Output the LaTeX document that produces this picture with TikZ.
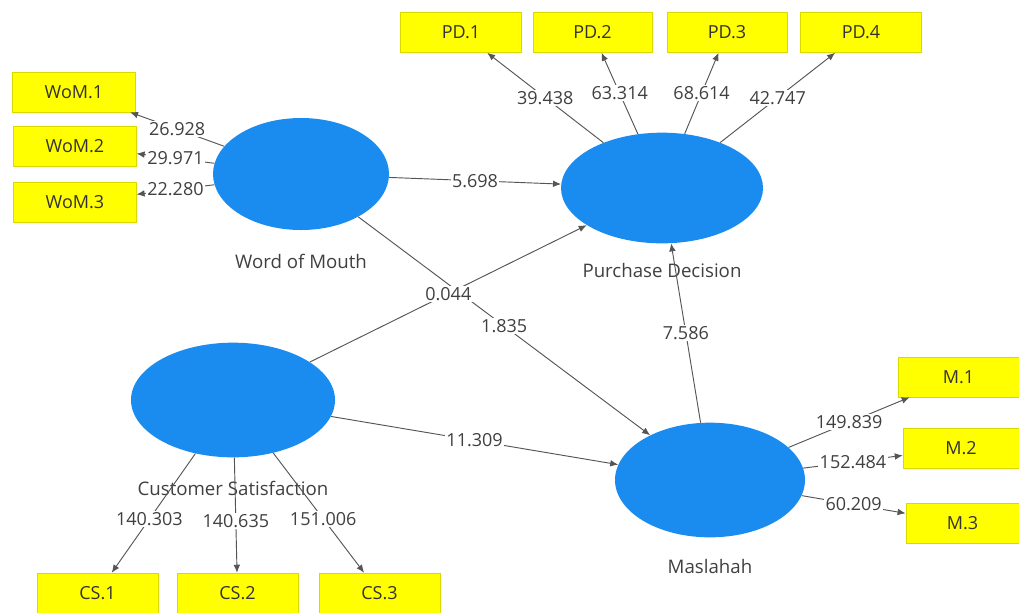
\documentclass[tikz,border=0pt]{standalone}
\usepackage{fontspec}
\setmainfont{Open Sans}
\usetikzlibrary{arrows.meta,shapes.geometric}
\definecolor{lvblue}{RGB}{26,140,240}
\definecolor{indyellow}{RGB}{255,255,0}
\definecolor{edgegray}{RGB}{85,85,85}
\definecolor{txtgray}{RGB}{64,64,64}
\tikzset{
  lv/.style={ellipse,fill=lvblue,draw=none,inner sep=0pt},
  ind/.style={rectangle,fill=indyellow,draw=indyellow!85!black,line width=0.4pt,inner sep=0pt,
     minimum height=30pt,font=\fontsize{13.5}{15}\selectfont,text=black!80},
  lvname/.style={font=\fontsize{14}{16}\selectfont,text=txtgray,inner sep=0pt},
  edge/.style={draw=edgegray,line width=0.7pt,-{Latex[length=6pt,width=5pt]}},
  val/.style={fill=white,inner sep=1pt,font=\fontsize{13.5}{15}\selectfont,text=txtgray,midway}
}
\begin{document}
\begin{tikzpicture}[x=0.75pt,y=-0.75pt]
\useasboundingbox (0,0) rectangle (1019,612);
\fill[white] (0,0) rectangle (1019,612);
% latent variables
\node[lv,minimum width=132pt,minimum height=84pt] (wom) at (301,174) {};
\node[lv,minimum width=151.5pt,minimum height=83pt] (pd) at (662,188) {};
\node[lv,minimum width=153pt,minimum height=86pt] (cs) at (233,400) {};
\node[lv,minimum width=142.5pt,minimum height=86pt] (ms) at (710,480) {};
% names
\node[lvname] (womn) at (301,261) {Word of Mouth};
\node[lvname] (pdn) at (662,270) {Purchase Decision};
\node[lvname] (csn) at (233,488) {Customer Satisfaction};
\node[lvname] (msn) at (710,566) {Maslahah};
% indicators
\node[ind,minimum width=92pt] (w1) at (74,92) {WoM.1};
\node[ind,minimum width=92pt] (w2) at (75,146) {WoM.2};
\node[ind,minimum width=92pt] (w3) at (75,202) {WoM.3};
\node[ind,minimum width=91pt] (p1) at (461,32.5) {PD.1};
\node[ind,minimum width=89pt] (p2) at (592.5,32.5) {PD.2};
\node[ind,minimum width=90pt] (p3) at (727,32.5) {PD.3};
\node[ind,minimum width=91pt] (p4) at (861,32.5) {PD.4};
\node[ind,minimum width=91pt] (m1) at (958.5,377) {M.1};
\node[ind,minimum width=87pt] (m2) at (961,448) {M.2};
\node[ind,minimum width=85pt] (m3) at (962.5,523) {M.3};
\node[ind,minimum width=91pt] (c1) at (97.5,593) {CS.1};
\node[ind,minimum width=91pt] (c2) at (237.5,593) {CS.2};
\node[ind,minimum width=91pt] (c3) at (379.5,593) {CS.3};
% outer loadings
\draw[edge] (wom) -- node[val]{26.928} (w1);
\draw[edge] (wom) -- node[val]{29.971} (w2);
\draw[edge] (wom) -- node[val]{22.280} (w3);
\draw[edge] (pd) -- node[val]{39.438} (p1);
\draw[edge] (pd) -- node[val]{63.314} (p2);
\draw[edge] (pd) -- node[val]{68.614} (p3);
\draw[edge] (pd) -- node[val]{42.747} (p4);
\draw[edge] (ms) -- node[val]{149.839} (m1);
\draw[edge] (ms) -- node[val]{152.484} (m2);
\draw[edge] (ms) -- node[val]{60.209} (m3);
\draw[edge] (cs) -- node[val,pos=0.55]{140.303} (c1);
\draw[edge] (cs) -- node[val,pos=0.55]{140.635} (c2);
\draw[edge] (cs) -- node[val,pos=0.55]{151.006} (c3);
% inner paths
\draw[edge] (wom) -- node[val]{5.698} (pd);
\draw[edge] (wom) -- node[val]{1.835} (ms);
\draw[edge] (cs) -- node[val]{0.044} (pd);
\draw[edge] (cs) -- node[val]{11.309} (ms);
\draw[edge] (ms) -- node[val]{7.586} (pd);
\end{tikzpicture}
\end{document}
